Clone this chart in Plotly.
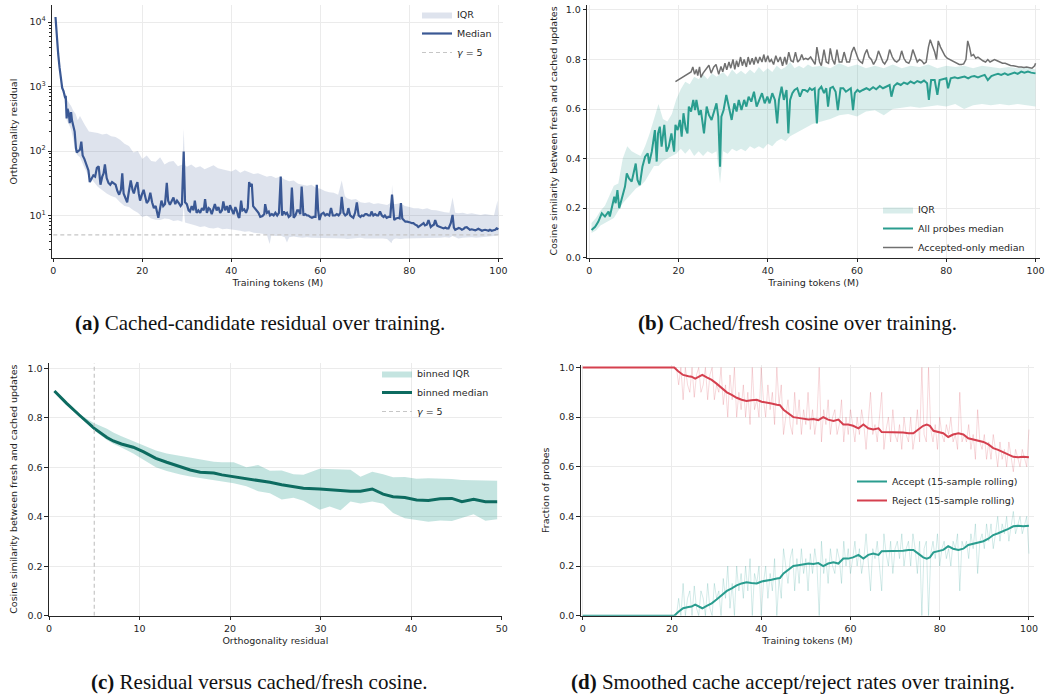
import plotly.graph_objects as go

# ---------------- Panel (a): orthogonality residual over training ----------------
A_MED_X = [
    0.5, 0.8, 1.1, 1.4, 1.7, 2.0, 2.3, 2.6, 2.8, 3.0,
    3.2, 3.5, 3.7, 4.0, 4.2, 4.5, 4.8, 5.1, 5.3, 5.6,
    6.0, 6.3, 6.6, 7.0, 7.5, 7.9, 8.2, 8.6, 9.0, 9.4,
    9.8, 10.2, 10.6, 11.0, 11.3, 11.6, 12.0, 12.4, 12.8, 13.2,
    13.6, 14.0, 14.4, 14.8, 15.2, 15.5, 15.8, 16.2, 16.6, 17.0,
    17.4, 17.8, 18.1, 18.5, 18.9, 19.2, 19.5, 19.9, 20.3, 20.7,
    21.0, 21.4, 21.8, 22.2, 22.6, 23.0, 23.3, 23.6, 24.0, 24.3,
    24.7, 25.1, 25.5, 25.8, 26.2, 26.6, 27.0, 27.4, 27.8, 28.2,
    28.6, 28.9, 29.3, 29.6, 30.0, 30.4, 30.7, 31.1, 31.5, 31.8,
    32.2, 32.6, 33.0, 33.4, 33.8, 34.1, 34.5, 34.9, 35.2, 35.6,
    36.0, 36.3, 36.7, 37.1, 37.5, 37.9, 38.2, 38.6, 39.0, 39.4,
    39.7, 40.1, 40.5, 40.9, 41.2, 41.6, 41.8, 42.2, 42.5, 42.9,
    43.3, 43.7, 44.0, 44.3, 44.6, 44.9, 45.3, 45.7, 46.1, 46.5,
    47.0, 47.4, 47.6, 48.0, 48.4, 48.7, 49.1, 49.5, 49.9, 50.3,
    50.7, 51.1, 51.4, 51.8, 52.2, 52.5, 52.9, 53.3, 53.6, 54.0,
    54.4, 54.8, 55.1, 55.5, 55.8, 56.2, 56.6, 57.0, 57.3, 57.7,
    58.1, 58.5, 58.9, 59.2, 59.5, 59.8, 60.2, 60.7, 61.1, 61.5,
    62.0, 62.4, 62.8, 63.3, 63.7, 64.1, 64.5, 64.8, 65.2, 65.6,
    66.0, 66.3, 66.7, 67.1, 67.4, 67.8, 68.2, 68.6, 69.0, 69.3,
    69.7, 70.1, 70.4, 70.8, 71.2, 71.5, 71.9, 72.3, 72.7, 73.0,
    73.4, 73.8, 74.2, 74.5, 74.9, 75.3, 75.7, 76.1, 76.4, 76.6,
    77.0, 77.5, 77.8, 78.1, 78.4, 78.7, 79.1, 79.5, 79.8, 80.2,
    80.6, 80.9, 81.3, 81.7, 82.0, 82.4, 82.8, 83.2, 83.5, 83.9,
    84.3, 84.6, 84.8, 85.2, 85.5, 85.8, 86.2, 86.5, 86.9, 87.3,
    87.7, 88.1, 88.4, 88.8, 89.1, 89.3, 89.7, 90.0, 90.3, 90.7,
    91.1, 91.4, 91.8, 92.2, 92.5, 92.9, 93.3, 93.6, 94.0, 94.4,
    94.8, 95.1, 95.5, 95.9, 96.3, 96.6, 97.0, 97.4, 97.8, 98.1,
    98.5, 98.9, 99.3, 99.6, 100.0,
]
A_MED_Y = [
    12000, 5500, 3200, 2000, 1300, 950, 850, 700, 720, 320,
    450, 380, 270, 400, 300, 250, 200, 110, 95, 100,
    105, 140, 85, 75, 62, 50, 33, 38, 42, 40,
    55, 58, 30, 40, 45, 62, 38, 32, 30, 33,
    31, 30, 24, 21, 25, 45, 22, 19, 16, 24,
    35, 25, 22, 28, 33, 22, 17, 21, 25, 19,
    15.6, 17, 22.5, 16, 13, 14, 11, 9.2, 13, 17,
    14, 15, 32, 17, 14.7, 17, 19, 15, 17, 15.6,
    14, 15, 98, 16, 15, 12, 11.5, 14, 12, 17,
    11, 12, 11, 13, 12, 18, 11, 13, 12.5, 10.5,
    13, 15, 12, 13.5, 11, 12, 16.5, 12, 14, 11,
    14.5, 12, 10.5, 13.5, 12, 9.5, 9.2, 17, 12, 12.5,
    11, 13, 33, 28, 31, 14, 13, 12, 11, 9.5,
    9.8, 10.5, 15, 11, 11.5, 10, 10.5, 10, 11, 10,
    11, 40, 10, 11.5, 10.5, 11, 9.5, 10, 27, 9.2,
    10, 12, 12, 10.5, 28, 10, 10.5, 10, 10, 9.5,
    9.2, 9.5, 9.5, 30, 12, 8.5, 10.5, 11, 10, 10.5,
    10, 13, 10, 10, 10.5, 10, 11, 19.4, 11, 10,
    10.5, 13, 10, 9.5, 9.2, 11, 16, 10, 9.5, 10,
    9.8, 10.5, 10.5, 10, 10, 11.5, 10, 10.5, 10, 10,
    11.5, 10, 9.5, 10, 9.2, 9.5, 9.5, 21, 9.5, 8.5,
    9, 9.2, 9, 15.6, 9, 8.5, 8, 8, 8, 7.8,
    7.6, 7.6, 7.2, 7, 6.6, 7, 7.2, 7.6, 7, 7.2,
    8.5, 7, 6.6, 7, 7.2, 8.5, 7, 6.8, 6.6, 6.5,
    6.3, 6.5, 6.3, 6.3, 7.0, 7.6, 10.2, 6.5, 6.0, 6.2,
    6.4, 6.3, 6.0, 6.2, 6.5, 6.6, 6.2, 6.0, 6.1, 6.0,
    5.9, 6.0, 6.2, 6.0, 5.8, 5.9, 6.0, 5.9, 5.8, 6.0,
    5.8, 5.9, 6.0, 6.3, 6.1,
]
A_IQR_X = [
    0.5, 1, 1.5, 2, 2.5, 3, 3.5, 4, 4.5, 5,
    5.5, 6, 7, 8, 9, 10, 11, 12, 13, 14,
    15, 16, 17, 18, 19, 20, 21, 22, 23, 24,
    25, 26, 27, 28, 29, 29.3, 29.6, 30, 31, 32,
    33, 34, 35, 36, 37, 38, 39, 40, 41, 42,
    43, 44, 45, 46, 47, 48, 48.6, 49, 50, 51,
    52, 52.5, 53, 54, 55, 56, 57, 58, 59, 60,
    61, 62, 63, 64, 64.8, 65.5, 66, 67, 68, 69,
    70, 71, 72, 73, 74, 75, 76, 76.1, 76.5, 77,
    78, 79, 80, 81, 82, 83, 84, 85, 86, 87,
    88, 89, 89.7, 90.3, 91, 92, 93, 94, 95, 96,
    97, 98, 99, 99.8, 100,
]
A_Q3 = [
    12500, 4500, 2000, 1100, 800, 650, 560, 500, 420, 380,
    300, 350, 260, 200, 195, 190, 180, 185, 170, 165,
    150, 130, 120, 95, 100, 75, 85, 70, 68, 80,
    62, 68, 70, 58, 62, 220, 60, 57, 62, 55,
    58, 52, 56, 60, 54, 52, 50, 48, 52, 46,
    50, 47, 44, 45, 42, 40, 41, 41, 38, 40,
    36, 35, 34, 35, 31, 30, 29, 30, 27, 26,
    24, 23, 22.5, 21, 35, 20, 18.5, 17.5, 18, 16,
    15.6, 16, 15, 15.5, 15, 14.5, 16, 30, 15, 15,
    15.5, 14, 13.5, 13, 13, 12.5, 13, 12.2, 12, 11.5,
    11.2, 11, 19, 11, 10.8, 11, 10.5, 10.8, 10.5, 10.2,
    10.5, 10.2, 10, 17, 10,
]
A_Q1 = [
    11000, 4000, 1700, 850, 620, 300, 260, 215, 150, 95,
    85, 80, 55, 40, 34, 28, 25, 22, 20, 19,
    16, 14, 13.5, 12, 11, 9.5, 10, 9, 8.6, 8.5,
    9, 8.8, 8.2, 8.4, 8, 14, 7.8, 7.8, 7.4, 7,
    6.6, 6.8, 6.4, 6.3, 6.5, 6.1, 6.2, 6.0, 5.9, 5.8,
    5.6, 5.7, 5.4, 5.3, 5.2, 5.0, 3.6, 5.0, 4.8, 4.9,
    4.6, 3.8, 4.6, 4.7, 4.6, 4.5, 4.6, 4.5, 4.5, 4.4,
    4.5, 4.4, 4.4, 4.5, 4.4, 4.4, 4.3, 4.4, 4.4, 4.5,
    4.4, 4.4, 4.3, 4.4, 4.4, 4.3, 3.7, 4.0, 4.3, 4.4,
    4.3, 4.4, 4.4, 4.4, 4.5, 4.4, 4.5, 4.4, 4.5, 4.5,
    4.6, 4.5, 4.8, 4.6, 4.4, 4.5, 4.6, 4.6, 4.5, 4.6,
    4.7, 4.7, 4.8, 5.0, 5.0,
]
GAMMA = 5
GAMMA_SPAN_A = [0, 100]

# ---------------- Panel (b): cached/fresh cosine over training ----------------
B_MED_X = [
    0.5, 1.3, 2.0, 2.8, 3.5, 4.3, 4.6, 5.1, 5.6, 5.9,
    6.3, 6.7, 7.2, 8.0, 8.4, 8.9, 9.5, 10.0, 10.4, 10.8,
    11.3, 11.9, 12.5, 13.1, 13.4, 14.0, 14.3, 14.7, 15.1, 15.4,
    15.8, 16.2, 16.8, 17.3, 17.8, 18.4, 19.0, 19.3, 19.8, 20.3,
    20.7, 21.1, 21.6, 22.0, 22.3, 22.8, 23.3, 23.7, 24.0, 24.6,
    25.0, 25.4, 25.7, 26.3, 26.8, 27.4, 27.9, 28.5, 28.9, 29.3,
    29.6, 30.1, 30.7, 31.3, 31.9, 32.5, 33.0, 33.5, 34.1, 34.7,
    35.2, 35.7, 36.3, 36.9, 37.5, 38.1, 38.7, 39.3, 39.9, 40.4,
    41.0, 41.6, 42.1, 42.5, 43.1, 43.6, 44.2, 44.6, 45.0, 45.5,
    46.0, 46.6, 47.2, 47.8, 48.3, 48.9, 49.4, 49.9, 50.5, 51.0,
    51.4, 52.0, 52.6, 53.1, 53.5, 54.0, 54.6, 55.2, 55.7, 56.3,
    56.9, 57.5, 58.0, 58.6, 59.1, 59.5, 60.1, 60.6, 61.3, 62.1,
    62.8, 63.6, 64.3, 65.1, 65.8, 66.6, 67.3, 67.7, 68.3, 69.0,
    69.8, 70.5, 71.3, 72.0, 72.8, 73.5, 74.3, 75.0, 75.7, 76.1,
    76.6, 77.4, 78.0, 78.5, 79.3, 80.0, 80.4, 81.0, 81.9, 82.6,
    83.4, 84.1, 84.9, 85.6, 86.3, 87.1, 87.8, 88.6, 89.3, 90.1,
    90.8, 91.6, 92.3, 93.1, 93.8, 94.6, 95.3, 96.0, 96.8, 97.5,
    98.3, 99.0, 100.0,
]
B_MED_Y = [
    0.112, 0.125, 0.145, 0.179, 0.166, 0.186, 0.166, 0.206, 0.246, 0.22,
    0.273, 0.2, 0.233, 0.287, 0.34, 0.32, 0.307, 0.354, 0.38, 0.314,
    0.293, 0.367, 0.408, 0.421, 0.38, 0.428, 0.462, 0.515, 0.388, 0.502,
    0.529, 0.448, 0.536, 0.428, 0.448, 0.502, 0.428, 0.536, 0.515, 0.556,
    0.489, 0.583, 0.522, 0.502, 0.61, 0.59, 0.637, 0.596, 0.637, 0.576,
    0.596, 0.536, 0.502, 0.61, 0.576, 0.556, 0.583, 0.623, 0.569, 0.367,
    0.569, 0.596, 0.657, 0.61, 0.556, 0.623, 0.59, 0.637, 0.596, 0.637,
    0.61, 0.65, 0.63, 0.67, 0.61, 0.637, 0.664, 0.623, 0.65, 0.623,
    0.664, 0.637, 0.542, 0.637, 0.69, 0.637, 0.677, 0.502, 0.637, 0.664,
    0.677, 0.684, 0.65, 0.677, 0.677, 0.67, 0.684, 0.677, 0.684, 0.542,
    0.677, 0.69, 0.664, 0.684, 0.61, 0.684, 0.69, 0.67, 0.596, 0.684,
    0.684, 0.67, 0.677, 0.684, 0.596, 0.664, 0.677, 0.67, 0.677, 0.684,
    0.677, 0.688, 0.68, 0.693, 0.684, 0.69, 0.697, 0.65, 0.693, 0.704,
    0.697, 0.707, 0.701, 0.711, 0.704, 0.713, 0.707, 0.715, 0.704, 0.637,
    0.717, 0.717, 0.657, 0.717, 0.72, 0.724, 0.684, 0.724, 0.728, 0.724,
    0.728, 0.731, 0.724, 0.731, 0.733, 0.728, 0.733, 0.738, 0.717, 0.733,
    0.738, 0.742, 0.738, 0.744, 0.738, 0.744, 0.747, 0.742, 0.751, 0.747,
    0.751, 0.747, 0.744,
]
B_IQR_X = [
    0.5, 1.5, 2.5, 3.5, 4.5, 5.5, 6.5, 7.5, 8.5, 9.5,
    10.5, 11.5, 12.5, 13.5, 14.5, 15.5, 16.5, 17.5, 18.5, 19.5,
    20.5, 21.5, 22.5, 23.5, 24.5, 25.5, 26.5, 27.5, 28.5, 29.3,
    30, 31, 32, 33, 34, 35, 36, 37, 38, 39,
    40, 41, 42, 43, 44, 45, 46, 47, 48, 49,
    50, 52, 54, 56, 58, 60, 62, 64, 66, 68,
    70, 72, 74, 76, 78, 80, 82, 84, 86, 88,
    90, 92, 94, 96, 98, 100,
]
B_Q3 = [
    0.14, 0.16, 0.19, 0.21, 0.25, 0.29, 0.3, 0.4, 0.45, 0.43,
    0.42, 0.41, 0.45, 0.5, 0.56, 0.62, 0.56, 0.55, 0.58, 0.64,
    0.68, 0.71, 0.7, 0.73, 0.72, 0.74, 0.72, 0.745, 0.73, 0.74,
    0.75, 0.73, 0.76, 0.74, 0.755, 0.74, 0.76, 0.745, 0.77, 0.75,
    0.765, 0.75, 0.775, 0.76, 0.77, 0.79, 0.765, 0.775, 0.765, 0.78,
    0.77, 0.775, 0.765, 0.785, 0.77, 0.78, 0.765, 0.775, 0.765, 0.78,
    0.765, 0.775, 0.77, 0.78, 0.765, 0.775, 0.77, 0.775, 0.765, 0.775,
    0.77, 0.765, 0.77, 0.765, 0.77, 0.76,
]
B_Q1 = [
    0.1, 0.11, 0.13, 0.14, 0.15, 0.16, 0.19, 0.22, 0.24, 0.26,
    0.28, 0.29, 0.31, 0.34, 0.37, 0.37, 0.39, 0.4, 0.41, 0.42,
    0.44, 0.42, 0.44, 0.41, 0.43, 0.41, 0.43, 0.42, 0.43, 0.3,
    0.43, 0.42, 0.44, 0.43, 0.44, 0.43, 0.45, 0.44, 0.45, 0.44,
    0.46, 0.45, 0.47, 0.48, 0.47, 0.49, 0.5, 0.51, 0.52, 0.53,
    0.54, 0.55, 0.56, 0.575, 0.58, 0.57, 0.59, 0.595, 0.575, 0.6,
    0.605, 0.61, 0.605, 0.61, 0.615, 0.61, 0.62, 0.6, 0.615, 0.62,
    0.615, 0.62, 0.615, 0.62, 0.615, 0.61,
]
B_ACC_X = [
    19.3, 20.5, 21.7, 22.8, 23.2, 23.6, 24.0, 24.3, 24.7, 25.0,
    25.5, 26.2, 26.8, 27.3, 27.9, 28.4, 29.0, 29.5, 29.9, 30.4,
    30.8, 31.3, 31.7, 32.2, 32.6, 33.0, 33.4, 33.9, 34.3, 34.7,
    35.2, 35.6, 36.0, 36.5, 36.9, 37.3, 37.8, 38.2, 38.7, 39.1,
    39.5, 40.0, 40.4, 40.8, 41.3, 41.8, 42.3, 42.8, 43.3, 43.8,
    44.2, 44.7, 45.2, 45.7, 46.2, 46.7, 47.2, 47.6, 48.0, 48.5,
    49.0, 49.6, 50.1, 50.6, 51.0, 51.6, 52.0, 52.6, 53.1, 53.6,
    54.0, 54.5, 55.0, 55.5, 56.0, 56.6, 57.1, 57.7, 58.3, 58.8,
    59.3, 59.8, 60.3, 60.8, 61.2, 61.7, 62.2, 62.7, 63.2, 63.7,
    64.3, 64.8, 65.3, 65.8, 66.2, 66.8, 67.3, 67.9, 68.4, 68.9,
    69.5, 70.0, 70.5, 71.0, 71.6, 72.0, 72.5, 73.0, 73.5, 74.0,
    74.5, 75.0, 75.5, 76.0, 76.4, 76.9, 77.4, 77.8, 78.2, 78.7,
    79.2, 79.7, 80.2, 80.8, 81.3, 81.9, 82.4, 82.9, 83.4, 83.9,
    84.4, 84.8, 85.2, 85.6, 86.1, 86.6, 87.1, 87.7, 88.2, 88.8,
    89.3, 89.8, 90.3, 90.8, 91.4, 92.0, 92.6, 93.2, 93.8, 94.4,
    95.0, 95.6, 96.2, 96.8, 97.4, 98.0, 98.6, 99.2, 99.8, 100.0,
]
B_ACC_Y = [
    0.711, 0.725, 0.738, 0.75, 0.77, 0.74, 0.76, 0.735, 0.77, 0.728,
    0.745, 0.76, 0.777, 0.745, 0.77, 0.78, 0.74, 0.772, 0.75, 0.785,
    0.758, 0.79, 0.765, 0.8, 0.76, 0.795, 0.77, 0.81, 0.775, 0.8,
    0.77, 0.81, 0.78, 0.805, 0.78, 0.81, 0.785, 0.81, 0.79, 0.82,
    0.79, 0.815, 0.79, 0.8, 0.78, 0.815, 0.79, 0.81, 0.775, 0.81,
    0.78, 0.83, 0.795, 0.79, 0.83, 0.79, 0.8, 0.82, 0.8, 0.805,
    0.8, 0.81, 0.795, 0.78, 0.85, 0.79, 0.775, 0.84, 0.79, 0.785,
    0.845, 0.8, 0.78, 0.84, 0.79, 0.79, 0.83, 0.79, 0.79, 0.83,
    0.85, 0.82, 0.8, 0.79, 0.785, 0.82, 0.84, 0.81, 0.8, 0.78,
    0.8, 0.835, 0.81, 0.79, 0.782, 0.8, 0.84, 0.81, 0.795, 0.79,
    0.8, 0.835, 0.805, 0.79, 0.785, 0.8, 0.84, 0.81, 0.79, 0.8,
    0.795, 0.783, 0.79, 0.85, 0.88, 0.855, 0.83, 0.8, 0.875, 0.85,
    0.83, 0.815, 0.805, 0.8, 0.795, 0.79, 0.785, 0.78, 0.78, 0.782,
    0.8, 0.875, 0.85, 0.815, 0.82, 0.805, 0.81, 0.8, 0.795, 0.79,
    0.8, 0.79, 0.795, 0.8, 0.795, 0.79, 0.785, 0.785, 0.78, 0.776,
    0.775, 0.772, 0.77, 0.77, 0.768, 0.77, 0.768, 0.765, 0.775, 0.785,
]

# ---------------- Panel (c): residual vs cosine (binned) ----------------
C_X = [
    0.6, 1.95, 3.4, 5.0, 6.4, 7.1, 8.0, 9.3, 10.4, 11.8,
    13.0, 14.5, 15.6, 16.7, 18.2, 19.1, 20.4, 21.8, 23.1, 24.4,
    25.7, 27.0, 28.1, 29.9, 31.0, 32.2, 33.3, 34.4, 35.7, 36.9,
    38.0, 39.3, 40.6, 41.9, 43.2, 44.5, 45.6, 46.9, 48.2, 49.5,
]
C_MED = [
    0.908, 0.858, 0.809, 0.757, 0.72, 0.706, 0.694, 0.681, 0.663, 0.636,
    0.62, 0.602, 0.589, 0.58, 0.577, 0.569, 0.562, 0.555, 0.546, 0.539,
    0.529, 0.522, 0.515, 0.512, 0.509, 0.505, 0.503, 0.503, 0.512, 0.491,
    0.481, 0.478, 0.468, 0.466, 0.473, 0.474, 0.461, 0.47, 0.461, 0.461,
]
C_Q3 = [
    0.91, 0.86, 0.812, 0.778, 0.755, 0.74, 0.725, 0.706, 0.69, 0.668,
    0.655, 0.646, 0.638, 0.632, 0.622, 0.62, 0.62, 0.6, 0.609, 0.586,
    0.587, 0.572, 0.57, 0.594, 0.593, 0.594, 0.59, 0.562, 0.582, 0.572,
    0.56, 0.561, 0.553, 0.555, 0.555, 0.552, 0.548, 0.548, 0.548, 0.545,
]
C_Q1 = [
    0.905, 0.855, 0.805, 0.748, 0.71, 0.695, 0.68, 0.655, 0.632, 0.6,
    0.585, 0.571, 0.563, 0.556, 0.547, 0.542, 0.535, 0.523, 0.503, 0.495,
    0.47, 0.477, 0.465, 0.428, 0.441, 0.426, 0.462, 0.453, 0.462, 0.452,
    0.415, 0.394, 0.387, 0.38, 0.385, 0.383, 0.394, 0.41, 0.384, 0.39,
]
GAMMA_SPAN_C = [0, 1.02]

# ---------------- Panel (d): accept / reject rates ----------------
D_RAW_X = [
    0, 20.5,
    21.0, 21.5, 22.0, 22.5, 23.0, 23.5, 24.0, 24.5, 25.0, 25.5,
    26.0, 26.5, 27.0, 27.5, 28.0, 28.5, 29.0, 29.5, 30.0, 30.5,
    31.0, 31.5, 32.0, 32.5, 33.0, 33.5, 34.0, 34.5, 35.0, 35.5,
    36.0, 36.5, 37.0, 37.5, 38.0, 38.5, 39.0, 39.5, 40.0, 40.5,
    41.0, 41.5, 42.0, 42.5, 43.0, 43.5, 44.0, 44.5, 45.0, 45.5,
    46.0, 46.5, 47.0, 47.5, 48.0, 48.5, 49.0, 49.5, 50.0, 50.5,
    51.0, 51.5, 52.0, 52.5, 53.0, 53.5, 54.0, 54.5, 55.0, 55.5,
    56.0, 56.5, 57.0, 57.5, 58.0, 58.5, 59.0, 59.5, 60.0, 60.5,
    61.0, 61.5, 62.0, 62.5, 63.0, 63.5, 64.0, 64.5, 65.0, 65.5,
    66.0, 66.5, 67.0, 67.5, 68.0, 68.5, 69.0, 69.5, 70.0, 70.5,
    71.0, 71.5, 72.0, 72.5, 73.0, 73.5, 74.0, 74.5, 75.0, 75.5,
    76.0, 76.5, 77.0, 77.5, 78.0, 78.5, 79.0, 79.5, 80.0, 80.5,
    81.0, 81.5, 82.0, 82.5, 83.0, 83.5, 84.0, 84.5, 85.0, 85.5,
    86.0, 86.5, 87.0, 87.5, 88.0, 88.5, 89.0, 89.5, 90.0, 90.5,
    91.0, 91.5, 92.0, 92.5, 93.0, 93.5, 94.0, 94.5, 95.0, 95.5,
    96.0, 96.5, 97.0, 97.5, 98.0, 98.5, 99.0, 99.5, 100.0,
]
D_ACCEPT_RAW = [
    0.0, 0.0,
    0.0, 0.07, 0.0, 0.13, 0.0, 0.07, 0.1, 0.0, 0.12, 0.03,
    0.0, 0.1, 0.07, 0.0, 0.13, 0.03, 0.0, 0.13, 0.07, 0.1,
    0.0, 0.15, 0.07, 0.2, 0.03, 0.13, 0.0, 0.2, 0.1, 0.17,
    0.07, 0.2, 0.1, 0.23, 0.0, 0.17, 0.13, 0.2, 0.0, 0.13,
    0.2, 0.07, 0.17, 0.1, 0.23, 0.0, 0.15, 0.07, 0.27, 0.2,
    0.13, 0.23, 0.27, 0.1, 0.23, 0.13, 0.27, 0.17, 0.23, 0.1,
    0.25, 0.17, 0.27, 0.2, 0.0, 0.3, 0.17, 0.23, 0.13, 0.27,
    0.2, 0.17, 0.27, 0.23, 0.13, 0.3, 0.2, 0.27, 0.17, 0.23,
    0.3, 0.2, 0.27, 0.17, 0.23, 0.33, 0.2, 0.1, 0.27, 0.23,
    0.3, 0.2, 0.1, 0.33, 0.25, 0.2, 0.3, 0.17, 0.27, 0.3,
    0.23, 0.33, 0.2, 0.27, 0.3, 0.2, 0.33, 0.27, 0.17, 0.3,
    0.0, 0.27, 0.3, 0.0, 0.25, 0.3, 0.23, 0.33, 0.2, 0.27,
    0.3, 0.23, 0.27, 0.2, 0.3, 0.27, 0.33, 0.1, 0.3, 0.27,
    0.3, 0.23, 0.33, 0.27, 0.37, 0.17, 0.3, 0.33, 0.27, 0.37,
    0.3, 0.37, 0.27, 0.33, 0.4, 0.3, 0.37, 0.33, 0.4, 0.3,
    0.37, 0.42, 0.33, 0.37, 0.4, 0.33, 0.37, 0.4, 0.25,
]
D_REJECT_RAW = [
    1.0, 1.0,
    1.0, 0.93, 1.0, 0.87, 1.0, 0.93, 0.9, 1.0, 0.88, 0.97,
    1.0, 0.9, 0.93, 1.0, 0.87, 0.97, 1.0, 0.87, 0.93, 0.9,
    1.0, 0.85, 0.93, 0.8, 0.97, 0.87, 1.0, 0.8, 0.9, 0.83,
    0.93, 0.8, 0.9, 0.77, 1.0, 0.83, 0.87, 0.8, 1.0, 0.87,
    0.8, 0.93, 0.83, 0.9, 0.77, 1.0, 0.85, 0.93, 0.73, 0.8,
    0.87, 0.77, 0.73, 0.9, 0.77, 0.87, 0.73, 0.83, 0.77, 0.9,
    0.75, 0.83, 0.73, 0.8, 1.0, 0.7, 0.83, 0.77, 0.87, 0.73,
    0.8, 0.83, 0.73, 0.77, 0.87, 0.7, 0.8, 0.73, 0.83, 0.77,
    0.7, 0.8, 0.73, 0.83, 0.77, 0.67, 0.8, 0.9, 0.73, 0.77,
    0.7, 0.8, 0.9, 0.67, 0.75, 0.8, 0.7, 0.83, 0.73, 0.7,
    0.77, 0.67, 0.8, 0.73, 0.7, 0.8, 0.67, 0.73, 0.83, 0.7,
    1.0, 0.73, 0.7, 1.0, 0.75, 0.7, 0.77, 0.67, 0.8, 0.73,
    0.7, 0.77, 0.73, 0.8, 0.7, 0.73, 0.67, 0.9, 0.7, 0.73,
    0.7, 0.77, 0.67, 0.73, 0.63, 0.83, 0.7, 0.67, 0.73, 0.63,
    0.7, 0.63, 0.73, 0.67, 0.6, 0.7, 0.63, 0.67, 0.6, 0.7,
    0.63, 0.58, 0.67, 0.63, 0.6, 0.67, 0.63, 0.6, 0.75,
]
D_SMOOTH_X = [
    0, 20.5,
    21.4, 22.5, 23.7, 24.4, 25.2, 25.9, 26.8, 27.8, 28.9, 30.0,
    31.1, 32.3, 33.4, 34.5, 35.6, 36.7, 37.8, 39.0, 40.1, 41.2,
    42.3, 43.5, 44.2, 45.0, 46.1, 47.2, 48.3, 49.4, 50.6, 51.7,
    52.8, 53.9, 55.0, 56.2, 57.3, 58.4, 59.5, 60.6, 61.8, 62.9,
    64.0, 65.1, 66.3, 67.0, 68.5, 69.6, 70.7, 71.8, 73.0, 74.1,
    75.2, 76.3, 77.1, 77.8, 78.6, 79.7, 80.8, 81.9, 83.0, 84.2,
    85.3, 86.4, 87.5, 88.6, 89.8, 90.9, 92.0, 93.1, 94.2, 95.4,
    96.5, 97.6, 98.7, 100.0,
]
D_REJECT_SMOOTH = [
    1.0, 1.0,
    0.985, 0.97, 0.965, 0.963, 0.955, 0.962, 0.97, 0.96, 0.95, 0.935,
    0.918, 0.9, 0.89, 0.878, 0.87, 0.865, 0.868, 0.87, 0.862, 0.86,
    0.855, 0.85, 0.848, 0.83, 0.815, 0.8, 0.797, 0.793, 0.79, 0.792,
    0.788, 0.8, 0.79, 0.785, 0.79, 0.77, 0.77, 0.765, 0.755, 0.77,
    0.755, 0.75, 0.755, 0.74, 0.74, 0.737, 0.74, 0.738, 0.735, 0.735,
    0.75, 0.765, 0.77, 0.765, 0.745, 0.74, 0.735, 0.72, 0.73, 0.735,
    0.73, 0.715, 0.71, 0.705, 0.7, 0.69, 0.675, 0.668, 0.66, 0.65,
    0.64, 0.638, 0.64, 0.638,
]
D_ACCEPT_SMOOTH = [
    0.0, 0.0,
    0.015, 0.03, 0.035, 0.037, 0.045, 0.038, 0.03, 0.04, 0.05, 0.065,
    0.082, 0.1, 0.11, 0.122, 0.13, 0.135, 0.132, 0.13, 0.138, 0.14,
    0.145, 0.15, 0.152, 0.17, 0.185, 0.2, 0.203, 0.207, 0.21, 0.208,
    0.212, 0.2, 0.21, 0.215, 0.21, 0.23, 0.23, 0.235, 0.245, 0.23,
    0.245, 0.25, 0.245, 0.26, 0.26, 0.263, 0.26, 0.262, 0.265, 0.265,
    0.25, 0.235, 0.23, 0.235, 0.255, 0.26, 0.265, 0.28, 0.27, 0.265,
    0.27, 0.285, 0.29, 0.295, 0.3, 0.31, 0.325, 0.332, 0.34, 0.35,
    0.36, 0.362, 0.36, 0.362,
]

X_TICKS_TRAIN = [0, 20, 40, 60, 80, 100]
X_TICKS_RESID = [0, 10, 20, 30, 40, 50]
Y_TICKS_UNIT = [0.0, 0.2, 0.4, 0.6, 0.8, 1.0]
Y_TICKS_LOG = [10, 100, 1000, 10000]
Y_TICKTEXT_LOG = ["10<sup>1</sup>", "10<sup>2</sup>", "10<sup>3</sup>", "10<sup>4</sup>"]

# ---------------- styling ----------------
W, H = 1049, 694
FONT = "DejaVu Sans"
TXT = "#1f1f1f"
FS = 9.5

BLUE = "#3a5894"
BLUE_FILL = "rgba(58,88,148,0.17)"
TEAL = "#2a9d8f"
TEAL_FILL = "rgba(42,157,143,0.18)"
DARK_TEAL = "#0d6b60"
TEAL_FILL_C = "rgba(42,157,143,0.28)"
GREY = "#707070"
RED = "#d5404f"
DASH_GREY = "#c6c6c6"


def px_x(p):
    return p / W


def px_y(p):
    return 1 - p / H


def band(x, lo, hi):
    return list(x) + list(x)[::-1], list(hi) + list(lo)[::-1]


fig = go.Figure()

# ----- (a)
bx, by = band(A_IQR_X, A_Q1, A_Q3)
fig.add_trace(go.Scatter(x=bx, y=by, fill="toself", fillcolor=BLUE_FILL, line=dict(width=0),
                         mode="lines", name="IQR", legend="legend", xaxis="x", yaxis="y",
                         hoverinfo="skip"))
fig.add_trace(go.Scatter(x=A_MED_X, y=A_MED_Y, mode="lines", line=dict(color=BLUE, width=2.2),
                         name="Median", legend="legend", xaxis="x", yaxis="y"))
fig.add_trace(go.Scatter(x=GAMMA_SPAN_A, y=[GAMMA, GAMMA], mode="lines",
                         line=dict(color=DASH_GREY, width=1.2, dash="4px,3px"),
                         name="<i>γ</i> = 5", legend="legend", xaxis="x", yaxis="y"))

# ----- (b)
bx, by = band(B_IQR_X, B_Q1, B_Q3)
fig.add_trace(go.Scatter(x=bx, y=by, fill="toself", fillcolor=TEAL_FILL, line=dict(width=0),
                         mode="lines", name="IQR", legend="legend2", xaxis="x2", yaxis="y2",
                         hoverinfo="skip"))
fig.add_trace(go.Scatter(x=B_MED_X, y=B_MED_Y, mode="lines", line=dict(color=TEAL, width=2.0),
                         name="All probes median", legend="legend2", xaxis="x2", yaxis="y2"))
fig.add_trace(go.Scatter(x=B_ACC_X, y=B_ACC_Y, mode="lines", line=dict(color=GREY, width=1.5),
                         name="Accepted-only median", legend="legend2", xaxis="x2", yaxis="y2"))

# ----- (c)
bx, by = band(C_X, C_Q1, C_Q3)
fig.add_trace(go.Scatter(x=bx, y=by, fill="toself", fillcolor=TEAL_FILL_C, line=dict(width=0),
                         mode="lines", name="binned IQR", legend="legend3", xaxis="x3", yaxis="y3",
                         hoverinfo="skip"))
fig.add_trace(go.Scatter(x=C_X, y=C_MED, mode="lines", line=dict(color=DARK_TEAL, width=3),
                         name="binned median", legend="legend3", xaxis="x3", yaxis="y3"))
fig.add_trace(go.Scatter(x=[GAMMA, GAMMA], y=GAMMA_SPAN_C, mode="lines",
                         line=dict(color=DASH_GREY, width=1.2, dash="4px,3px"),
                         name="<i>γ</i> = 5", legend="legend3", xaxis="x3", yaxis="y3"))

# ----- (d)
fig.add_trace(go.Scatter(x=D_RAW_X, y=D_ACCEPT_RAW, mode="lines",
                         line=dict(color="rgba(42,157,143,0.2)", width=1),
                         showlegend=False, xaxis="x4", yaxis="y4"))
fig.add_trace(go.Scatter(x=D_RAW_X, y=D_REJECT_RAW, mode="lines",
                         line=dict(color="rgba(213,64,79,0.2)", width=1),
                         showlegend=False, xaxis="x4", yaxis="y4"))
fig.add_trace(go.Scatter(x=D_SMOOTH_X, y=D_ACCEPT_SMOOTH, mode="lines",
                         line=dict(color=TEAL, width=2.0),
                         name="Accept (15-sample rolling)", legend="legend4", xaxis="x4", yaxis="y4"))
fig.add_trace(go.Scatter(x=D_SMOOTH_X, y=D_REJECT_SMOOTH, mode="lines",
                         line=dict(color=RED, width=2.0),
                         name="Reject (15-sample rolling)", legend="legend4", xaxis="x4", yaxis="y4"))


def axis(domain, rng, anchor, title, tickvals, ticktext=None, **kw):
    d = dict(
        domain=domain, range=rng, anchor=anchor, automargin=False,
        showline=True, linecolor="#262626", linewidth=1.1, mirror=False,
        ticks="outside", ticklen=3.5, tickwidth=1, tickcolor="#262626",
        showgrid=True, gridcolor="#ebebeb", gridwidth=0.8, zeroline=False,
        tickfont=dict(family=FONT, size=FS, color=TXT),
        tickmode="array", tickvals=tickvals,
    )
    if title:
        d["title"] = dict(text=title, font=dict(family=FONT, size=FS, color=TXT), standoff=4)
    if ticktext is not None:
        d["ticktext"] = ticktext
    d.update(kw)
    return d


UNIT_TXT = ["0.0", "0.2", "0.4", "0.6", "0.8", "1.0"]
LOG_MINOR = [m * 10 ** e for e in range(0, 5) for m in range(2, 10)]

dom_ax = [px_x(52.3), px_x(503.3)]
dom_bx = [px_x(587.3), px_x(1040)]
dom_cx = [px_x(49), px_x(501.7)]
dom_dx = [px_x(580.7), px_x(1034.3)]
dom_top_y = [px_y(257.7), px_y(5)]
dom_c_y = [px_y(615.7), px_y(363.3)]
dom_d_y = [px_y(615.7), px_y(365)]

fig.update_layout(
    template="none",
    width=W, height=H,
    margin=dict(l=0, r=0, t=0, b=0, autoexpand=False),
    paper_bgcolor="white", plot_bgcolor="white",
    font=dict(family=FONT, size=FS, color=TXT),
    xaxis=axis(dom_ax, [-0.22, 101.1], "y", "Training tokens (M)", X_TICKS_TRAIN),
    yaxis=axis(dom_top_y, [0.345, 4.265], "x", None, Y_TICKS_LOG, Y_TICKTEXT_LOG,
               type="log",
               minor=dict(tickmode="array", tickvals=LOG_MINOR, ticks="outside", ticklen=2,
                          tickcolor="#262626", showgrid=False)),
    xaxis2=axis(dom_bx, [-0.45, 101.0], "y2", "Training tokens (M)", X_TICKS_TRAIN),
    yaxis2=axis(dom_top_y, [0, 1.02], "x2", None, Y_TICKS_UNIT, UNIT_TXT),
    xaxis3=axis(dom_cx, [0, 50], "y3", "Orthogonality residual", X_TICKS_RESID),
    yaxis3=axis(dom_c_y, [0, 1.02], "x3", None, Y_TICKS_UNIT, UNIT_TXT),
    xaxis4=axis(dom_dx, [-0.45, 101.2], "y4", "Training tokens (M)", X_TICKS_TRAIN),
    yaxis4=axis(dom_d_y, [0, 1.01], "x4", None, Y_TICKS_UNIT, UNIT_TXT),
)

# y-axis titles placed precisely (rotated text)
Y_TITLES = [
    ("Orthogonality residual", 13.3, 131.3),
    ("Cosine similarity between fresh and cached updates", 553.3, 131.3),
    ("Cosine similarity between fresh and cached updates", 13.3, 489.5),
    ("Fraction of probes", 545.7, 490.3),
]
for text, cx, cy in Y_TITLES:
    fig.add_annotation(text=text, x=px_x(cx), y=px_y(cy), xref="paper", yref="paper",
                       xanchor="center", yanchor="middle", showarrow=False, textangle=-90,
                       font=dict(family=FONT, size=FS, color=TXT))

leg_common = dict(bgcolor="rgba(0,0,0,0)", borderwidth=0, font=dict(family=FONT, size=FS, color=TXT),
                  xanchor="left", yanchor="top", itemwidth=30, tracegroupgap=0)
fig.update_layout(
    legend=dict(x=px_x(417), y=px_y(0), **leg_common),
    legend2=dict(x=px_x(878), y=px_y(195), **leg_common),
    legend3=dict(x=px_x(377), y=px_y(359), **leg_common),
    legend4=dict(x=px_x(852), y=px_y(467), **leg_common),
)

CAPTIONS = [
    ("<b>(a)</b> Cached-candidate residual over training.", 260, 323),
    ("<b>(b)</b> Cached/fresh cosine over training.", 797, 323),
    ("<b>(c)</b> Residual versus cached/fresh cosine.", 259, 682),
    ("<b>(d)</b> Smoothed cache accept/reject rates over training.", 793, 682),
]
for text, cx, cy in CAPTIONS:
    fig.add_annotation(text=text, x=px_x(cx), y=px_y(cy), xref="paper", yref="paper",
                       xanchor="center", yanchor="middle", showarrow=False,
                       font=dict(family="Liberation Serif", size=21, color="#111"))

fig.write_html(
    "out.html",
    config={"displayModeBar": False},
    post_script="document.body.style.margin='0';document.body.style.overflow='hidden';",
)
